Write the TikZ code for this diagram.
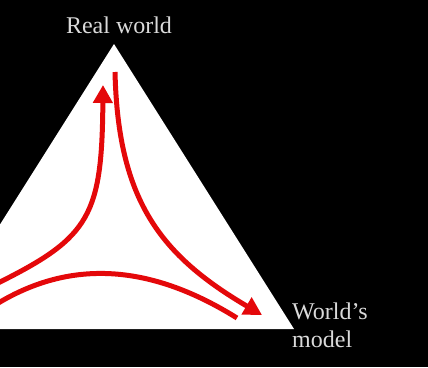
\documentclass[tikz,border=0pt]{standalone}
\usepackage{fontspec}
\setmainfont{Liberation Serif}
\usetikzlibrary{arrows.meta}
\definecolor{arrowred}{RGB}{228,8,10}
\definecolor{labelgray}{RGB}{218,218,218}
\begin{document}
\begin{tikzpicture}[x=1pt,y=-1pt,
  flow/.style={draw=arrowred,line width=5pt},
  tip/.style={-{Triangle[length=18pt,width=19pt]}},
  lbl/.style={text=labelgray,font=\fontsize{24}{28}\selectfont,inner sep=0pt}]
\fill[black] (0,0) rectangle (428,367);
\useasboundingbox (0,0) rectangle (428,367);
\clip (0,0) rectangle (428,367);
% white triangle
\coordinate (apex) at (114,44);
\coordinate (br) at (294,329);
\coordinate (bl) at (-66,329);
\fill[white] (apex) -- (br) -- (bl) -- cycle;
% curve endpoints
\coordinate (a0) at (-10,287);
\coordinate (a1) at (0,282);
\coordinate (a2) at (103,85);
\coordinate (b1) at (115,72);
\coordinate (b2) at (262,315);
\coordinate (c0) at (-10,308);
\coordinate (c1) at (0,302);
\coordinate (c2) at (237,318);
% red arrows
\draw[flow,tip] (a0) -- (a1) .. controls (90,237) and (102,215) .. (a2);
\draw[flow,tip] (b1) .. controls (118,200) and (160,255) .. (b2);
\draw[flow] (c0) -- (c1) .. controls (80,255) and (160,270) .. (c2);
% labels
\node[lbl,anchor=base] (real) at (119,33) {Real world};
\node[lbl,anchor=base west] (wm1) at (292,319) {World’s};
\node[lbl,anchor=base west] (wm2) at (292,347) {model};
\end{tikzpicture}
\end{document}
